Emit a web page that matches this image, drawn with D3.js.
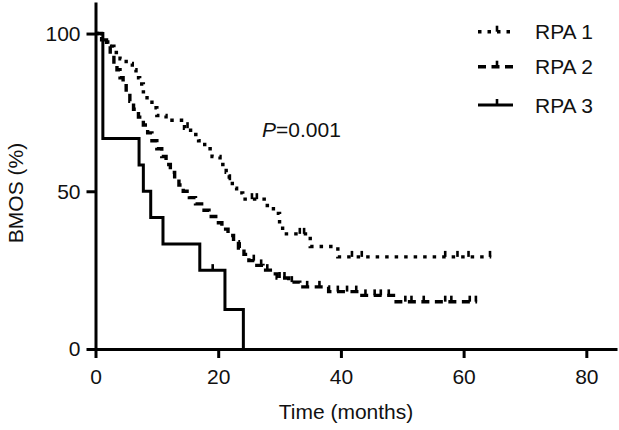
<!DOCTYPE html>
<html>
<head>
<meta charset="utf-8">
<script src="https://cdn.jsdelivr.net/npm/d3@7/dist/d3.min.js"></script>
<style>
  html, body { margin: 0; padding: 0; background: #fff; }
  svg { display: block; }
  text { font-family: "Liberation Sans", Arial, sans-serif; fill: #111; }
</style>
</head>
<body>
<svg id="chart" width="619" height="430"></svg>
<script>
// ---- data ----
const seriesNames = ["RPA 1", "RPA 2", "RPA 3"];

const rpa1Time = [0, 1, 2, 3, 4, 5, 6, 6.6, 7.2, 7.8, 8.4, 9.2, 10, 11.5, 14.5, 15.5, 16.8, 17.8, 19, 20.3, 21.3, 21.8, 22.3, 23, 24, 27.5, 29, 30, 30.5, 35, 39.5];
const rpa1Surv = [100, 98, 96, 94, 92, 90.5, 88.5, 86, 84, 81.5, 79, 76.5, 74, 72.5, 70, 68, 66, 63.5, 61, 58.5, 56, 53.5, 51, 49.5, 47.5, 45.5, 43, 39.5, 36.5, 32.5, 29.2];
const rpa1End = 64.5;
const rpa1Censor = [15, 21.9, 25.5, 26.3, 33.3, 34, 41.8, 43.4, 57, 59, 60.8, 64.3];

const rpa2Time = [0, 1, 1.8, 2.4, 3, 3.5, 4, 4.5, 5, 5.6, 6.2, 7, 7.8, 8.5, 9.2, 10, 10.8, 11.5, 12.2, 12.9, 13.6, 14.3, 15.3, 16.3, 17.3, 18.5, 19.6, 20.6, 21.6, 22.5, 23.3, 24.2, 25, 26, 27.3, 28.5, 29.6, 31.5, 33.3, 38, 43, 49];
const rpa2Surv = [100, 98, 96, 93.5, 91, 88.5, 86, 83.5, 81, 78.5, 76, 73.5, 71, 68.5, 66, 63.5, 61, 58.5, 56, 54, 52, 50, 48, 46, 44, 42, 40, 38, 36, 34, 32, 30, 28, 26.5, 25, 23.8, 22.5, 21.2, 19.7, 18.2, 17, 15];
const rpa2End = 62.2;
const rpa2Censor = [23.5, 25.8, 27, 28, 30, 30.8, 32, 34.5, 36.5, 39.5, 41, 42.5, 44, 45.5, 46.5, 47.8, 50.5, 51.5, 53.5, 57, 58, 61, 62];

const rpa3Time = [0, 1.2, 7.1, 7.8, 9, 11, 17, 21.1, 24.1];
const rpa3Surv = [100, 66.7, 58.3, 50, 41.7, 33.3, 25, 12.5, 0];
const rpa3End = 24.1;
const rpa3Censor = [19.1];

const xTicks = [0, 20, 40, 60, 80];
const yTicks = [0, 50, 100];
const xLabel = "Time (months)";
const yLabel = "BMOS (%)";
const pText = "=0.001";

// ---- layout ----
const svg = d3.select("#chart");
const x = d3.scaleLinear().domain([0, 85]).range([95.5, 617]);
const y = d3.scaleLinear().domain([0, 110]).range([349, 2]);

const styles = [
  { dash: "3.5 6", width: 3.4 },
  { dash: "8 5.5", width: 3.4 },
  { dash: null, width: 3 }
];

function build(times, surv, end) {
  const pts = times.map((t, i) => [t, surv[i]]);
  const last = pts[pts.length - 1];
  if (end > last[0]) pts.push([end, last[1]]);
  return pts;
}
function survAt(times, surv, t) {
  let s = surv[0];
  for (let i = 0; i < times.length; i++) if (times[i] <= t) s = surv[i];
  return s;
}

const series = [
  { pts: build(rpa1Time, rpa1Surv, rpa1End), times: rpa1Time, surv: rpa1Surv, censor: rpa1Censor },
  { pts: build(rpa2Time, rpa2Surv, rpa2End), times: rpa2Time, surv: rpa2Surv, censor: rpa2Censor },
  { pts: build(rpa3Time, rpa3Surv, rpa3End), times: rpa3Time, surv: rpa3Surv, censor: rpa3Censor }
];

const line = d3.line().x(d => x(d[0])).y(d => y(d[1])).curve(d3.curveStepAfter);

// curves
series.forEach((s, i) => {
  svg.append("path")
    .attr("d", line(s.pts))
    .attr("fill", "none")
    .attr("stroke", "#000")
    .attr("stroke-width", styles[i].width)
    .attr("stroke-dasharray", styles[i].dash)
    .attr("stroke-linejoin", "miter");
  svg.append("g").selectAll("line").data(s.censor).join("line")
    .attr("x1", d => x(d)).attr("x2", d => x(d))
    .attr("y1", d => y(survAt(s.times, s.surv, d)))
    .attr("y2", d => y(survAt(s.times, s.surv, d)) - 6)
    .attr("stroke", "#000").attr("stroke-width", 2.6);
});

// axes
const xAxis = svg.append("g").attr("transform", `translate(0,${y(0)})`)
  .call(d3.axisBottom(x).tickValues(xTicks).tickSizeInner(9).tickSizeOuter(0).tickPadding(11));
const yAxis = svg.append("g").attr("transform", `translate(${x(0)},0)`)
  .call(d3.axisLeft(y).tickValues(yTicks).tickSizeInner(9).tickSizeOuter(0).tickPadding(6));
[xAxis, yAxis].forEach(g => {
  g.select(".domain").attr("stroke", "#000").attr("stroke-width", 3);
  g.selectAll(".tick line").attr("stroke", "#000").attr("stroke-width", 3);
  g.selectAll(".tick text").attr("font-size", 21).attr("fill", "#111")
    .attr("font-family", "'Liberation Sans', Arial, sans-serif");
});

// axis labels
svg.append("text").attr("x", 346).attr("y", 419).attr("text-anchor", "middle")
  .attr("font-size", 21).text(xLabel);
svg.append("text").attr("transform", "translate(23,193) rotate(-90)").attr("text-anchor", "middle")
  .attr("font-size", 21).text(yLabel);

// P value
const pt = svg.append("text").attr("x", 262).attr("y", 137).attr("font-size", 21);
pt.append("tspan").attr("font-style", "italic").text("P");
pt.append("tspan").text(pText);

// legend
const legendY = [31.7, 66.7, 105];
seriesNames.forEach((name, i) => {
  const g = svg.append("g");
  g.append("line").attr("x1", 478).attr("x2", 513).attr("y1", legendY[i]).attr("y2", legendY[i])
    .attr("stroke", "#000").attr("stroke-width", styles[i].width)
    .attr("stroke-dasharray", styles[i].dash);
  g.append("line").attr("x1", 497).attr("x2", 497).attr("y1", legendY[i]).attr("y2", legendY[i] - 6)
    .attr("stroke", "#000").attr("stroke-width", 2.6);
  g.append("text").attr("x", 535).attr("y", legendY[i] + 7.5).attr("font-size", 21).text(name);
});
</script>
</body>
</html>
